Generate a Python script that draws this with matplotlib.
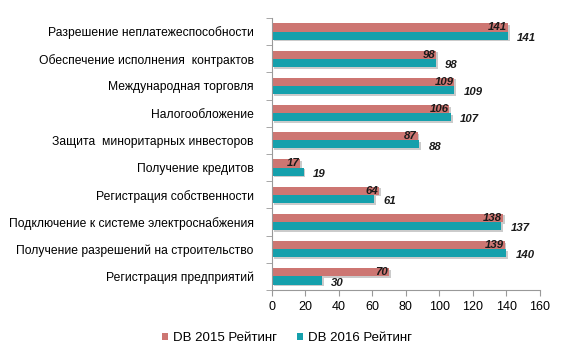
import matplotlib
matplotlib.use("Agg")
import matplotlib.pyplot as plt
import matplotlib.patheffects as pe
import numpy as np

plt.rcParams['font.family'] = ['Liberation Sans', 'DejaVu Sans']

categories = [
    "Разрешение неплатежеспособности",
    "Обеспечение исполнения  контрактов",
    "Международная торговля",
    "Налогообложение",
    "Защита  миноритарных инвесторов",
    "Получение кредитов",
    "Регистрация собственности",
    "Подключение к системе электроснабжения",
    "Получение разрешений на строительство",
    "Регистрация предприятий",
]
db2015 = [141, 98, 109, 106, 87, 17, 64, 138, 139, 70]
db2016 = [141, 98, 109, 107, 88, 19, 61, 137, 140, 30]
xticks = [0, 20, 40, 60, 80, 100, 120, 140, 160]

c2015 = "#CD7672"
c2016 = "#15A0AC"

fig = plt.figure(figsize=(5.7, 3.58), dpi=100)
ax = fig.add_axes([0.477, 0.19, 0.47, 0.76])

n = len(categories)
y = np.arange(n)[::-1]
h = 0.30
shadow = [pe.SimplePatchShadow(offset=(1.2, -1.2), shadow_rgbFace="#999999", alpha=0.5), pe.Normal()]
b1 = ax.barh(y + h / 2, db2015, height=h, color=c2015, label="DB 2015 Рейтинг", path_effects=shadow)
b2 = ax.barh(y - h / 2, db2016, height=h, color=c2016, label="DB 2016 Рейтинг", path_effects=shadow)

for yi, v in zip(y, db2015):
    ax.text(v - 0.5, yi + h / 2, str(v), ha="right", va="center", fontsize=8.2,
            fontweight="bold", fontstyle="italic", color="#1a1a1a")
for yi, v in zip(y, db2016):
    ax.text(v + 5.5, yi - h / 2 - 0.08, str(v), ha="left", va="center", fontsize=8.2,
            fontweight="bold", fontstyle="italic", color="#1a1a1a")

ax.set_xlim(0, 160)
ax.set_ylim(-0.5, n - 0.5)
ax.set_xticks(xticks)
ax.set_xticklabels([str(t) for t in xticks], fontsize=9)
ax.set_yticks(y)
ax.set_yticklabels(categories, fontsize=8.7)
ax.set_yticks(np.arange(-0.5, n, 1.0), minor=True)
ax.tick_params(axis="y", which="major", length=0, pad=13)
ax.tick_params(axis="y", which="minor", length=4, color="#999999", direction="out")
ax.tick_params(axis="x", which="major", length=4, color="#999999", direction="out", pad=4)

for s in ["top", "right"]:
    ax.spines[s].set_visible(False)
for s in ["left", "bottom"]:
    ax.spines[s].set_color("#999999")
    ax.spines[s].set_linewidth(0.8)

leg = fig.legend(handles=[b1, b2], loc="center", bbox_to_anchor=(0.503, 0.055), ncol=2,
                 frameon=False, fontsize=9.5, handlelength=0.5, handleheight=0.5,
                 columnspacing=1.5, handletextpad=0.35)
for hnd in leg.legend_handles:
    hnd.set_path_effects([])

fig.savefig("out.png", dpi=100)
